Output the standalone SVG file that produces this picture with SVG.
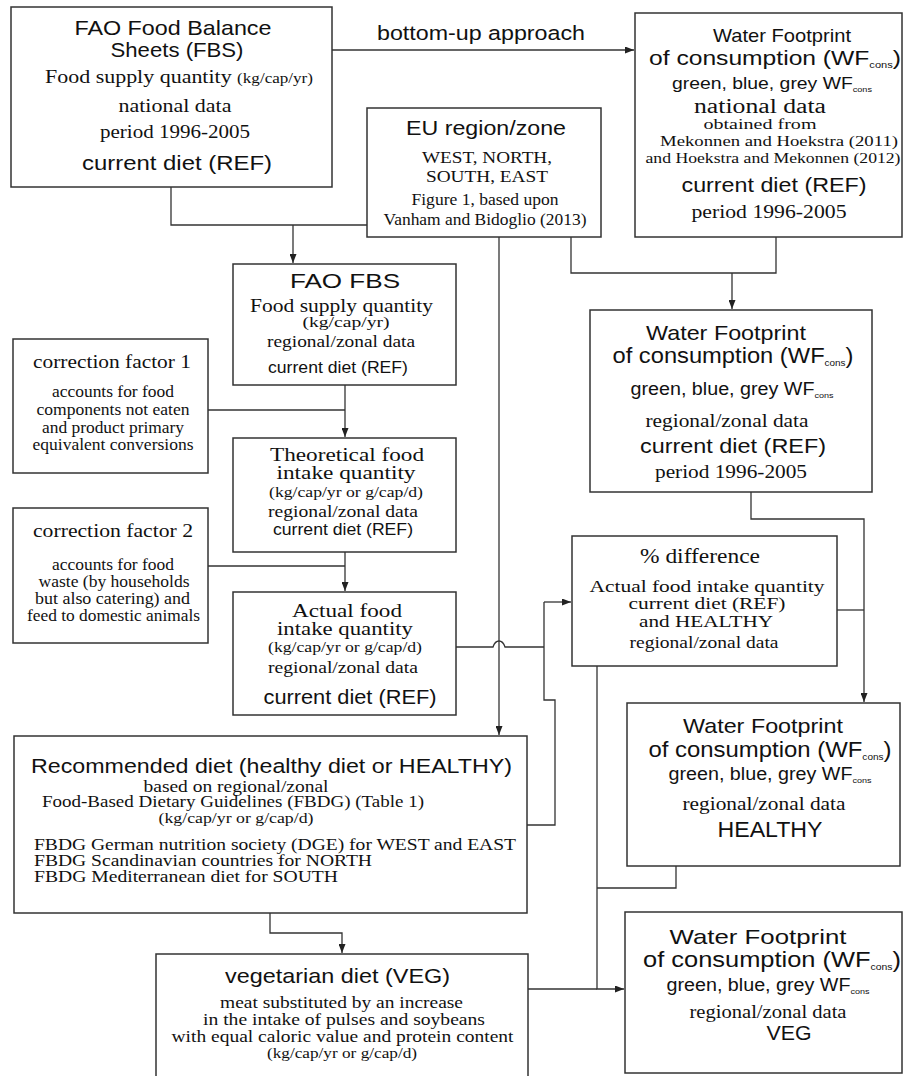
<svg xmlns="http://www.w3.org/2000/svg" width="904" height="1076" viewBox="0 0 904 1076">
<style>
text, tspan { fill:#111; }
text { text-anchor:middle; }
.s { font-family:"Liberation Sans", Arial, sans-serif; }
.r { font-family:"Liberation Serif", "Times New Roman", serif; }
.l { text-anchor:start; }
.box { fill:#fff; stroke:#333; stroke-width:1.5; }
.ln { fill:none; stroke:#333; stroke-width:1.3; }
</style>
<defs>
<marker id="ah" markerUnits="userSpaceOnUse" markerWidth="9" markerHeight="7" refX="9" refY="3.5" orient="auto">
<path d="M0,0 L9,3.5 L0,7 z" fill="#222"/>
</marker>
</defs>
<rect width="904" height="1076" fill="#fff"/>

<g id="connectors">
<path class="ln" d="M332,50 H634" marker-end="url(#ah)"/>
<path class="ln" d="M171,187 V225 H367"/>
<path class="ln" d="M293,225 V263" marker-end="url(#ah)"/>
<path class="ln" d="M571,237 V273 H776 V237"/>
<path class="ln" d="M732,273 V309" marker-end="url(#ah)"/>
<path class="ln" d="M499,237 V735" marker-end="url(#ah)"/>
<path class="ln" d="M345,385 V437" marker-end="url(#ah)"/>
<path class="ln" d="M208,410 H345"/>
<path class="ln" d="M345,552 V591" marker-end="url(#ah)"/>
<path class="ln" d="M208,566 H345"/>
<path class="ln" d="M456,647 H493 Q495,641 499,641 Q503,641 505,647 H544"/>
<path class="ln" d="M544,602 H571" marker-end="url(#ah)"/>
<path class="ln" d="M544,602 V700 H555 V825 H527"/>
<path class="ln" d="M751,492 V519 H864 V702" marker-end="url(#ah)"/>
<path class="ln" d="M837,610 H864"/>
<path class="ln" d="M597,666 V989 H624" marker-end="url(#ah)"/>
<path class="ln" d="M528,989 H597"/>
<path class="ln" d="M676,866 V888 H597"/>
<path class="ln" d="M270,913 V933 H342 V953" marker-end="url(#ah)"/>
<text class="s" x="481" y="40" font-size="20.5" textLength="208" lengthAdjust="spacingAndGlyphs">bottom-up approach</text>
</g>

<g id="fbs">
<rect class="box" x="11" y="7" width="321" height="180"/>
<text class="s" x="173" y="35" font-size="21" textLength="197" lengthAdjust="spacingAndGlyphs">FAO Food Balance</text>
<text class="s" x="177" y="57" font-size="21" textLength="133" lengthAdjust="spacingAndGlyphs">Sheets (FBS)</text>
<text class="r" x="179" y="83" font-size="18" textLength="268" lengthAdjust="spacingAndGlyphs">Food supply quantity <tspan font-size="14">(kg/cap/yr)</tspan></text>
<text class="r" x="175" y="112" font-size="19" textLength="113" lengthAdjust="spacingAndGlyphs">national data</text>
<text class="r" x="175" y="138" font-size="19" textLength="150" lengthAdjust="spacingAndGlyphs">period 1996-2005</text>
<text class="s" x="177" y="170" font-size="21" textLength="190" lengthAdjust="spacingAndGlyphs">current diet (REF)</text>
</g>

<g id="eu">
<rect class="box" x="367" y="108" width="234" height="129"/>
<text class="s" x="486" y="135" font-size="21" textLength="160" lengthAdjust="spacingAndGlyphs">EU region/zone</text>
<text class="r" x="487" y="163" font-size="17" textLength="130" lengthAdjust="spacingAndGlyphs">WEST, NORTH,</text>
<text class="r" x="487" y="182" font-size="17" textLength="122" lengthAdjust="spacingAndGlyphs">SOUTH, EAST</text>
<text class="r" x="485" y="205" font-size="16.5" textLength="147" lengthAdjust="spacingAndGlyphs">Figure 1, based upon</text>
<text class="r" x="485" y="225" font-size="16" textLength="203" lengthAdjust="spacingAndGlyphs">Vanham and Bidoglio (2013)</text>
</g>

<g id="wf-national">
<rect class="box" x="635" y="13" width="267" height="224"/>
<text class="s" x="782" y="42" font-size="19" textLength="138" lengthAdjust="spacingAndGlyphs">Water Footprint</text>
<text class="s" x="775" y="65" font-size="20" textLength="252" lengthAdjust="spacingAndGlyphs">of consumption (WF<tspan font-size="9" dy="3">cons</tspan><tspan dy="-3">)</tspan></text>
<text class="s" x="772" y="89" font-size="17" textLength="200" lengthAdjust="spacingAndGlyphs">green, blue, grey WF<tspan font-size="8" dy="3">cons</tspan></text>
<text class="r" x="760" y="113" font-size="20" textLength="132" lengthAdjust="spacingAndGlyphs">national data</text>
<text class="r" x="760" y="129" font-size="15.5" textLength="113" lengthAdjust="spacingAndGlyphs">obtained from</text>
<text class="r" x="779" y="146" font-size="15.5" textLength="238" lengthAdjust="spacingAndGlyphs">Mekonnen and Hoekstra (2011)</text>
<text class="r" x="773" y="163" font-size="15.5" textLength="255" lengthAdjust="spacingAndGlyphs">and Hoekstra and Mekonnen (2012)</text>
<text class="s" x="774" y="192" font-size="20.5" textLength="185" lengthAdjust="spacingAndGlyphs">current diet (REF)</text>
<text class="r" x="769" y="218" font-size="19" textLength="155" lengthAdjust="spacingAndGlyphs">period 1996-2005</text>
</g>

<g id="fao-fbs">
<rect class="box" x="233" y="264" width="223" height="121"/>
<text class="s" x="345" y="288" font-size="21" textLength="110" lengthAdjust="spacingAndGlyphs">FAO FBS</text>
<text class="r" x="341.5" y="312" font-size="19" textLength="183" lengthAdjust="spacingAndGlyphs">Food supply quantity</text>
<text class="r" x="346" y="327" font-size="15" textLength="87" lengthAdjust="spacingAndGlyphs">(kg/cap/yr)</text>
<text class="r" x="341" y="347" font-size="17.5" textLength="148" lengthAdjust="spacingAndGlyphs">regional/zonal data</text>
<text class="s" x="338" y="373" font-size="16.5" textLength="140" lengthAdjust="spacingAndGlyphs">current diet (REF)</text>
</g>

<g id="cf1">
<rect class="box" x="13" y="339" width="195" height="134"/>
<text class="r" x="112" y="368" font-size="19.5" textLength="158" lengthAdjust="spacingAndGlyphs">correction factor 1</text>
<text class="r" x="113" y="397" font-size="16" textLength="122" lengthAdjust="spacingAndGlyphs">accounts for food</text>
<text class="r" x="113" y="415" font-size="16" textLength="153" lengthAdjust="spacingAndGlyphs">components not eaten</text>
<text class="r" x="113" y="433" font-size="16" textLength="142" lengthAdjust="spacingAndGlyphs">and product primary</text>
<text class="r" x="113" y="450" font-size="16" textLength="161" lengthAdjust="spacingAndGlyphs">equivalent conversions</text>
</g>

<g id="theoretical">
<rect class="box" x="233" y="438" width="223" height="114"/>
<text class="r" x="347" y="461" font-size="18" textLength="154" lengthAdjust="spacingAndGlyphs">Theoretical food</text>
<text class="r" x="346" y="478.5" font-size="18" textLength="139" lengthAdjust="spacingAndGlyphs">intake quantity</text>
<text class="r" x="346" y="497" font-size="15" textLength="154" lengthAdjust="spacingAndGlyphs">(kg/cap/yr or g/cap/d)</text>
<text class="r" x="343" y="517" font-size="17" textLength="150" lengthAdjust="spacingAndGlyphs">regional/zonal data</text>
<text class="s" x="343" y="535" font-size="16" textLength="140" lengthAdjust="spacingAndGlyphs">current diet (REF)</text>
</g>

<g id="cf2">
<rect class="box" x="13" y="508" width="195" height="135"/>
<text class="r" x="113" y="537" font-size="19.5" textLength="160" lengthAdjust="spacingAndGlyphs">correction factor 2</text>
<text class="r" x="113" y="570" font-size="16" textLength="122" lengthAdjust="spacingAndGlyphs">accounts for food</text>
<text class="r" x="114" y="587" font-size="16" textLength="151" lengthAdjust="spacingAndGlyphs">waste (by households</text>
<text class="r" x="112.5" y="604" font-size="16" textLength="155" lengthAdjust="spacingAndGlyphs">but also catering) and</text>
<text class="r" x="113.5" y="621" font-size="16" textLength="173" lengthAdjust="spacingAndGlyphs">feed to domestic animals</text>
</g>

<g id="actual">
<rect class="box" x="233" y="592" width="223" height="123"/>
<text class="r" x="347" y="617" font-size="18.5" textLength="110" lengthAdjust="spacingAndGlyphs">Actual food</text>
<text class="r" x="345" y="635" font-size="18.5" textLength="136" lengthAdjust="spacingAndGlyphs">intake quantity</text>
<text class="r" x="345" y="652" font-size="15" textLength="154" lengthAdjust="spacingAndGlyphs">(kg/cap/yr or g/cap/d)</text>
<text class="r" x="343" y="673" font-size="17" textLength="150" lengthAdjust="spacingAndGlyphs">regional/zonal data</text>
<text class="s" x="350" y="704" font-size="20" textLength="173" lengthAdjust="spacingAndGlyphs">current diet (REF)</text>
</g>

<g id="difference">
<rect class="box" x="572" y="536" width="265" height="130"/>
<text class="r" x="700" y="563" font-size="21" textLength="120" lengthAdjust="spacingAndGlyphs">% difference</text>
<text class="r" x="707" y="591.5" font-size="17.5" textLength="235" lengthAdjust="spacingAndGlyphs">Actual food intake quantity</text>
<text class="r" x="707" y="609" font-size="17.5" textLength="157" lengthAdjust="spacingAndGlyphs">current diet (REF)</text>
<text class="r" x="706" y="627" font-size="17.5" textLength="134" lengthAdjust="spacingAndGlyphs">and HEALTHY</text>
<text class="r" x="704" y="648" font-size="17" textLength="149" lengthAdjust="spacingAndGlyphs">regional/zonal data</text>
</g>

<g id="wf-ref">
<rect class="box" x="590" y="310" width="282" height="182"/>
<text class="s" x="726" y="340" font-size="21" textLength="160" lengthAdjust="spacingAndGlyphs">Water Footprint</text>
<text class="s" x="733" y="363" font-size="21.5" textLength="241" lengthAdjust="spacingAndGlyphs">of consumption (WF<tspan font-size="9" dy="3">cons</tspan><tspan dy="-3">)</tspan></text>
<text class="s" x="732" y="395" font-size="17.5" textLength="203" lengthAdjust="spacingAndGlyphs">green, blue, grey WF<tspan font-size="8" dy="3">cons</tspan></text>
<text class="r" x="727" y="427" font-size="19" textLength="163" lengthAdjust="spacingAndGlyphs">regional/zonal data</text>
<text class="s" x="733" y="453" font-size="21" textLength="186" lengthAdjust="spacingAndGlyphs">current diet (REF)</text>
<text class="r" x="731" y="478" font-size="19" textLength="152" lengthAdjust="spacingAndGlyphs">period 1996-2005</text>
</g>

<g id="wf-healthy">
<rect class="box" x="627" y="703" width="273" height="163"/>
<text class="s" x="763" y="733" font-size="21" textLength="160" lengthAdjust="spacingAndGlyphs">Water Footprint</text>
<text class="s" x="770" y="757" font-size="21.5" textLength="243" lengthAdjust="spacingAndGlyphs">of consumption (WF<tspan font-size="9" dy="3">cons</tspan><tspan dy="-3">)</tspan></text>
<text class="s" x="770" y="780" font-size="17.5" textLength="203" lengthAdjust="spacingAndGlyphs">green, blue, grey WF<tspan font-size="8" dy="3">cons</tspan></text>
<text class="r" x="764" y="810" font-size="19" textLength="163" lengthAdjust="spacingAndGlyphs">regional/zonal data</text>
<text class="s" x="770" y="837" font-size="22" textLength="105" lengthAdjust="spacingAndGlyphs">HEALTHY</text>
</g>

<g id="recommended">
<rect class="box" x="14" y="736" width="513" height="177"/>
<text class="s" x="271.5" y="773" font-size="20.5" textLength="481" lengthAdjust="spacingAndGlyphs">Recommended diet (healthy diet or HEALTHY)</text>
<text class="r" x="236" y="792" font-size="16" textLength="185" lengthAdjust="spacingAndGlyphs">based on regional/zonal</text>
<text class="r" x="233" y="807" font-size="16" textLength="382" lengthAdjust="spacingAndGlyphs">Food-Based Dietary Guidelines (FBDG) (Table 1)</text>
<text class="r" x="236" y="823" font-size="15" textLength="155" lengthAdjust="spacingAndGlyphs">(kg/cap/yr or g/cap/d)</text>
<text class="r l" x="34" y="850" font-size="16" textLength="482" lengthAdjust="spacingAndGlyphs">FBDG German nutrition society (DGE) for WEST and EAST</text>
<text class="r l" x="34" y="866" font-size="16" textLength="338" lengthAdjust="spacingAndGlyphs">FBDG Scandinavian countries for NORTH</text>
<text class="r l" x="34" y="882" font-size="16" textLength="304" lengthAdjust="spacingAndGlyphs">FBDG Mediterranean diet for SOUTH</text>
</g>

<g id="veg">
<rect class="box" x="156" y="954" width="372" height="130"/>
<text class="s" x="337.5" y="983" font-size="21" textLength="225" lengthAdjust="spacingAndGlyphs">vegetarian diet (VEG)</text>
<text class="r" x="341.5" y="1008" font-size="16.5" textLength="243" lengthAdjust="spacingAndGlyphs">meat substituted by an increase</text>
<text class="r" x="344" y="1025" font-size="16.5" textLength="282" lengthAdjust="spacingAndGlyphs">in the intake of pulses and soybeans</text>
<text class="r" x="342.5" y="1042" font-size="16.5" textLength="342" lengthAdjust="spacingAndGlyphs">with equal caloric value and protein content</text>
<text class="r" x="342" y="1058" font-size="15" textLength="150" lengthAdjust="spacingAndGlyphs">(kg/cap/yr or g/cap/d)</text>
</g>

<g id="wf-veg">
<rect class="box" x="625" y="912" width="277" height="161"/>
<text class="s" x="758" y="944" font-size="21" textLength="177" lengthAdjust="spacingAndGlyphs">Water Footprint</text>
<text class="s" x="772" y="967" font-size="22" textLength="258" lengthAdjust="spacingAndGlyphs">of consumption (WF<tspan font-size="9" dy="3">cons</tspan><tspan dy="-3">)</tspan></text>
<text class="s" x="768" y="991" font-size="17.5" textLength="203" lengthAdjust="spacingAndGlyphs">green, blue, grey WF<tspan font-size="8" dy="3">cons</tspan></text>
<text class="r" x="768" y="1018" font-size="18.5" textLength="157" lengthAdjust="spacingAndGlyphs">regional/zonal data</text>
<text class="s" x="789" y="1040" font-size="21" textLength="45" lengthAdjust="spacingAndGlyphs">VEG</text>
</g>
</svg>
